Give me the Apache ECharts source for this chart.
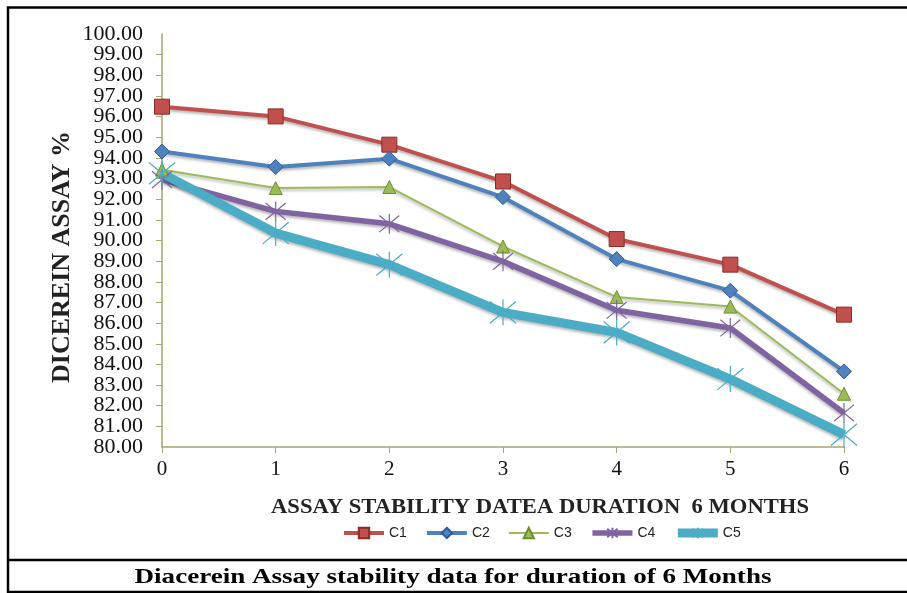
<!DOCTYPE html>
<html>
<head>
<meta charset="utf-8">
<script src="https://cdn.jsdelivr.net/npm/echarts@6/dist/echarts.min.js"></script>
<style>html,body{margin:0;padding:0;background:#fff}#c{width:907px;height:593px}</style>
</head>
<body>
<div id="c"></div>
<script>
var categories = ['0', '1', '2', '3', '4', '5', '6'];
var c1 = [96.48, 96.01, 94.64, 92.86, 90.07, 88.83, 86.41];
var c2 = [94.31, 93.56, 93.96, 92.10, 89.10, 87.57, 83.66];
var c3 = [93.43, 92.54, 92.59, 89.71, 87.26, 86.80, 82.58];
var c4 = [92.95, 91.41, 90.81, 88.99, 86.62, 85.76, 81.65];
var c5 = [93.25, 90.36, 88.83, 86.52, 85.55, 83.29, 80.60];
var seriesNames = ['C1', 'C2', 'C3', 'C4', 'C5'];
var xName = 'ASSAY STABILITY DATEA DURATION  6 MONTHS';
var yName = 'DICEREIN ASSAY %';
var caption = 'Diacerein Assay stability data for duration of 6 Months';

var chart = echarts.init(document.getElementById('c'));
var serif = '"Liberation Serif", "Times New Roman", serif';
var star = 'path://M0,0L20,20M20,0L0,20M10,-2L10,22';
var shadow = {shadowColor: 'rgba(0,0,0,0.3)', shadowBlur: 3, shadowOffsetY: 2};
var yLabel = {fontFamily: serif, fontSize: 22, color: '#111', margin: 19,
  formatter: function (v) { return v.toFixed(2); }};

function mk(name, data, color, border, width, symbol, size, opts) {
  var s = {
    name: name, type: 'line', data: data, symbol: symbol, symbolSize: size, yAxisIndex: 0,
    lineStyle: Object.assign({color: color, width: width}, shadow),
    itemStyle: {color: color, borderColor: border, borderWidth: 1},
    z: 2
  };
  return Object.assign(s, opts || {});
}

chart.setOption({
  animation: false,
  grid: {left: 162, right: 63, top: 34, bottom: 146},
  legend: {
    left: 337, top: 521, itemWidth: 40, itemHeight: 13, itemGap: 18,
    lineStyle: {width: 'inherit'},
    textStyle: {fontFamily: '"Liberation Sans", Arial, sans-serif', fontSize: 14, color: '#222'},
    data: seriesNames
  },
  xAxis: {
    type: 'category', data: categories, boundaryGap: false,
    axisLine: {lineStyle: {color: '#a6a66e', width: 1.5}},
    axisTick: {show: true, length: 6, lineStyle: {color: '#a6a66e'}},
    axisLabel: {fontFamily: serif, fontSize: 21, color: '#111', margin: 12}
  },
  yAxis: [{
    type: 'value', min: 80, max: 100, interval: 1, position: 'left',
    axisLine: {show: true, lineStyle: {color: '#a6a66e', width: 1.5}},
    axisTick: {show: true, length: 6, lineStyle: {color: '#a6a66e'}},
    splitLine: {show: false},
    axisLabel: Object.assign({showMinLabel: false, showMaxLabel: false}, yLabel)
  }, {
    type: 'value', min: 80, max: 100, interval: 20, position: 'left', offset: 0,
    axisLine: {show: false}, axisTick: {show: false}, splitLine: {show: false},
    axisLabel: Object.assign({}, yLabel)
  }],
  series: [
    mk('C1', c1, '#c0504d', '#8c2a28', 4, 'rect', 15),
    mk('C2', c2, '#4f81bd', '#2c5d94', 4, 'diamond', 15),
    mk('C3', c3, '#9bbb59', '#6f8f32', 2, 'triangle', 13),
    mk('C4', c4, '#8064a2', '#8064a2', 5.5, star, 20, {itemStyle: {color: '#8064a2', borderColor: '#8064a2', borderWidth: 1.2}}),
    mk('C5', c5, '#4bacc6', '#4bacc6', 9, star, 26, {itemStyle: {color: '#4bacc6', borderColor: '#4bacc6', borderWidth: 1.2}})
  ],
  graphic: [
    {type: 'text', x: 540, y: 508, scaleX: 1.13, style: {text: xName, fontFamily: serif, fontWeight: 'bold', fontSize: 20, fill: '#222', align: 'center', verticalAlign: 'middle'}},
    {type: 'text', x: 62, y: 257, rotation: Math.PI / 2, style: {text: yName, fontFamily: serif, fontWeight: 'bold', fontSize: 26, fill: '#222', align: 'center', verticalAlign: 'middle'}},
    {type: 'text', x: 453, y: 577, scaleX: 1.23, style: {text: caption, fontFamily: serif, fontWeight: 'bold', fontSize: 22, fill: '#000', align: 'center', verticalAlign: 'middle'}},
    {type: 'polyline', shape: {points: [[907, 7.5], [8, 7.5], [8, 592], [907, 592]]}, style: {stroke: '#000', lineWidth: 2.5, fill: null}},
    {type: 'line', shape: {x1: 8, y1: 560, x2: 907, y2: 560}, style: {stroke: '#000', lineWidth: 2.5}}
  ]
});
</script>
</body>
</html>
